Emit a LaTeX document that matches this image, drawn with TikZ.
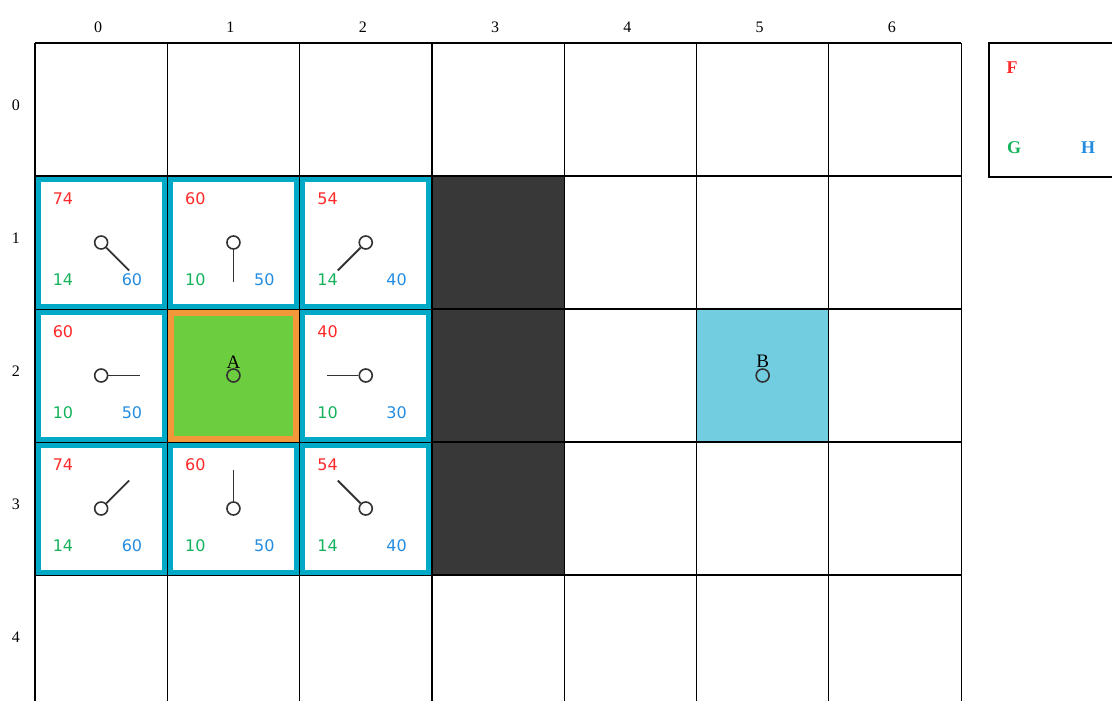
\documentclass[tikz,border=0pt]{standalone}
\usepackage{fontspec}
\setmainfont{Liberation Serif}
\newfontfamily\numfont{DejaVu Sans}
\definecolor{wallgray}{RGB}{56,56,56}
\definecolor{openedge}{RGB}{0,169,198}
\definecolor{startfill}{RGB}{108,206,63}
\definecolor{startedge}{RGB}{242,152,58}
\definecolor{goalfill}{RGB}{113,205,223}
\definecolor{fred}{RGB}{255,40,40}
\definecolor{ggreen}{RGB}{20,178,90}
\definecolor{hblue}{RGB}{35,140,225}
\definecolor{dotgray}{RGB}{50,50,50}
\usetikzlibrary{positioning}

\def\cw{132.3}
\def\ch{133}

\begin{document}
\begin{tikzpicture}[x=1pt, y=-1pt,
    gridline/.style={draw=black, line width=1.2pt},
    wall/.style={fill=wallgray},
    openbox/.style={draw=openedge, line width=5pt},
    startbox/.style={draw=startedge, line width=6pt},
    axislabel/.style={font=\fontsize{16}{16}\selectfont},
    marklabel/.style={font=\fontsize{19}{19}\selectfont, inner sep=0pt},
    keylabel/.style={font=\bfseries\fontsize{18}{18}\selectfont},
    fval/.style={font=\numfont\fontsize{16}{16}\selectfont, text=fred},
    gval/.style={font=\numfont\fontsize{16}{16}\selectfont, text=ggreen},
    hval/.style={font=\numfont\fontsize{16}{16}\selectfont, text=hblue},
    dot/.style={circle, draw=dotgray, fill=white, line width=1.6pt, minimum size=13pt, inner sep=0pt},
    pointer/.style={draw=dotgray, line width=1.8pt}
  ]
    \useasboundingbox (0,0) rectangle (1112,701);
    \clip (0,0) rectangle (1112,701);
    % Walls and the two end cells
    \foreach \r in {1,2,3}
      \fill[wall] (35+3*\cw,43+\r*\ch) rectangle (35+4*\cw,43+\r*\ch+\ch);
    \fill[startfill] (35+\cw,43+2*\ch) rectangle (35+2*\cw,43+3*\ch);
    \fill[goalfill] (35+5*\cw,43+2*\ch) rectangle (35+6*\cw,43+3*\ch);
    % Grid
    \foreach \i in {0,...,7}
      \draw[gridline] (35+\i*\cw,43) -- (35+\i*\cw,720);
    \foreach \j in {0,...,5}
      \draw[gridline] (35,43+\j*\ch) -- (35+7*\cw,43+\j*\ch);
    \foreach \i in {0,...,6}
      \node[axislabel] (col-\i) at (35+\i*\cw+\cw/2-3,27) {\i};
    \foreach \j in {0,...,4}
      \node[axislabel] (row-\j) at (16,43+\j*\ch+\ch/2-4) {\j};
    % Open cells
    \foreach \c/\r/\f/\g/\h/\dx/\dy in {
        0/1/74/14/60/28/28, 1/1/60/10/50/0/39, 2/1/54/14/40/-28/28,
        0/2/60/10/50/39/0, 2/2/40/10/30/-39/0,
        0/3/74/14/60/28/-28, 1/3/60/10/50/0/-39, 2/3/54/14/40/-28/-28} {
      \pgfmathsetmacro\xl{35+\c*\cw}
      \pgfmathsetmacro\yt{43+\r*\ch}
      \draw[openbox] (\xl+3,\yt+3) rectangle (\xl+\cw-3,\yt+\ch-3);
      \node[fval] (f-\c-\r) at (\xl+28,\yt+23) {\f};
      \node[gval] (g-\c-\r) at (\xl+28,\yt+104) {\g};
      \node[hval] (h-\c-\r) at (\xl+97,\yt+104) {\h};
      \coordinate (tail-\c-\r) at (\xl+\cw/2+\dx,\yt+\ch/2+\dy);
      \node[dot] (dot-\c-\r) at (\xl+\cw/2,\yt+\ch/2) {};
      \draw[pointer] (dot-\c-\r) -- (tail-\c-\r);
    }
    % Start and goal
    \draw[startbox] (35+\cw+3.5,43+2*\ch+3.5) rectangle (35+2*\cw-3.5,43+3*\ch-3.5);
    \node[dot, fill=none] (dot-a) at (35+1.5*\cw,43+2.5*\ch) {};
    \node[marklabel, above=0pt of dot-a] (A) {A};
    \node[dot, fill=none] (dot-b) at (35+5.5*\cw,43+2.5*\ch) {};
    \node[marklabel, above=0pt of dot-b] (B) {B};
    % Key
    \draw[gridline] (989,43) rectangle (1130,177);
    \node[keylabel, text=fred] (key-f) at (1012,68) {F};
    \node[keylabel, text=ggreen] (key-g) at (1014,148) {G};
    \node[keylabel, text=hblue] (key-h) at (1088,148) {H};
  \end{tikzpicture}
\end{document}
